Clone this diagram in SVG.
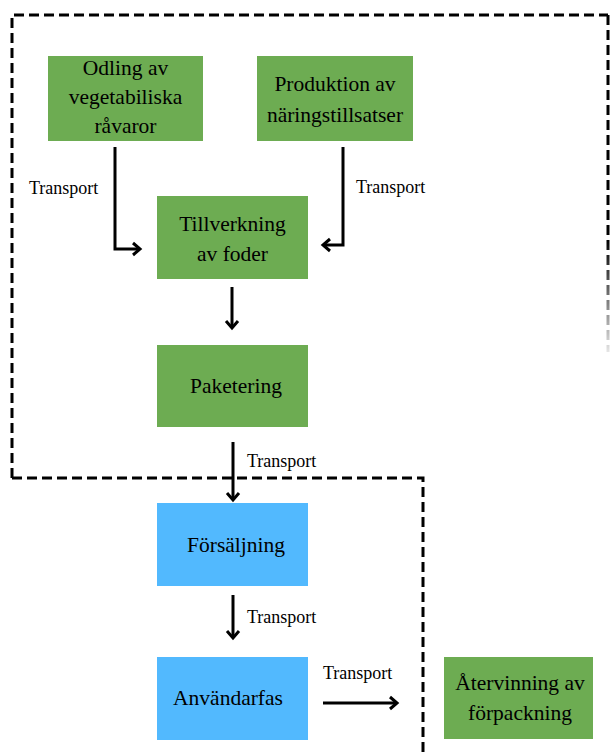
<svg xmlns="http://www.w3.org/2000/svg" width="611" height="754" viewBox="0 0 611 754">
<style>
.g{fill:#6DAC52}
.b{fill:#52B9FE}
.t{font-family:"Liberation Serif","Times New Roman",serif;font-size:21.5px;fill:#000;text-anchor:middle}
.l{font-family:"Liberation Serif","Times New Roman",serif;font-size:18px;fill:#000}
.c{fill:none;stroke:#000;stroke-width:3}
.d{fill:none;stroke:#000;stroke-width:3;stroke-dasharray:10 5}
</style>
<defs>
<marker id="ah" markerUnits="userSpaceOnUse" markerWidth="16" markerHeight="16" refX="13" refY="8" orient="auto">
<path d="M6,2 L13,8 L6,14" fill="none" stroke="#000" stroke-width="3"/>
</marker>
<linearGradient id="fade" gradientUnits="userSpaceOnUse" x1="0" y1="240" x2="0" y2="352">
<stop offset="0" stop-color="#000"/>
<stop offset="1" stop-color="#000" stop-opacity="0.1"/>
</linearGradient>
</defs>
<rect width="611" height="754" fill="#fff"/>
<g id="boundary">
<path class="d" d="M12,478 V15 H608"/>
<path class="d" d="M12,478 H423 V754"/>
<path d="M608,15 V352" fill="none" stroke="url(#fade)" stroke-width="3" stroke-dasharray="10 5"/>
</g>
<g id="connectors">
<path class="c" d="M115,147 V249 H140" marker-end="url(#ah)"/>
<path class="c" d="M343,147 V245 H323" marker-end="url(#ah)"/>
<path class="c" d="M232,287 V328" marker-end="url(#ah)"/>
<path class="c" d="M233,442 V500" marker-end="url(#ah)"/>
<path class="c" d="M233,595 V638" marker-end="url(#ah)"/>
<path class="c" d="M323,703 H397" marker-end="url(#ah)"/>
<text class="l" x="29" y="194">Transport</text>
<text class="l" x="356" y="193">Transport</text>
<text class="l" x="247" y="467">Transport</text>
<text class="l" x="247" y="623">Transport</text>
<text class="l" x="323" y="679">Transport</text>
</g>
<g id="odling">
<rect class="g" x="48" y="56" width="155" height="85"/>
<text class="t" x="125.5" y="75">Odling av</text>
<text class="t" x="125.5" y="104">vegetabiliska</text>
<text class="t" x="125.5" y="133">råvaror</text>
</g>
<g id="produktion">
<rect class="g" x="257" y="56" width="156" height="85"/>
<text class="t" x="335" y="91">Produktion av</text>
<text class="t" x="335" y="122">näringstillsatser</text>
</g>
<g id="tillverkning">
<rect class="g" x="157" y="196" width="151" height="83"/>
<text class="t" x="232.5" y="231">Tillverkning</text>
<text class="t" x="232.5" y="261">av foder</text>
</g>
<g id="paketering">
<rect class="g" x="157" y="345" width="151" height="82"/>
<text class="t" x="236" y="393">Paketering</text>
</g>
<g id="forsaljning">
<rect class="b" x="157" y="503" width="151" height="83"/>
<text class="t" x="236" y="552">Försäljning</text>
</g>
<g id="anvandarfas">
<rect class="b" x="157" y="657" width="151" height="83"/>
<text class="t" x="228" y="705">Användarfas</text>
</g>
<g id="atervinning">
<rect class="g" x="444" y="657" width="149" height="82"/>
<text class="t" x="520" y="690">Återvinning av</text>
<text class="t" x="520" y="720">förpackning</text>
</g>
</svg>
